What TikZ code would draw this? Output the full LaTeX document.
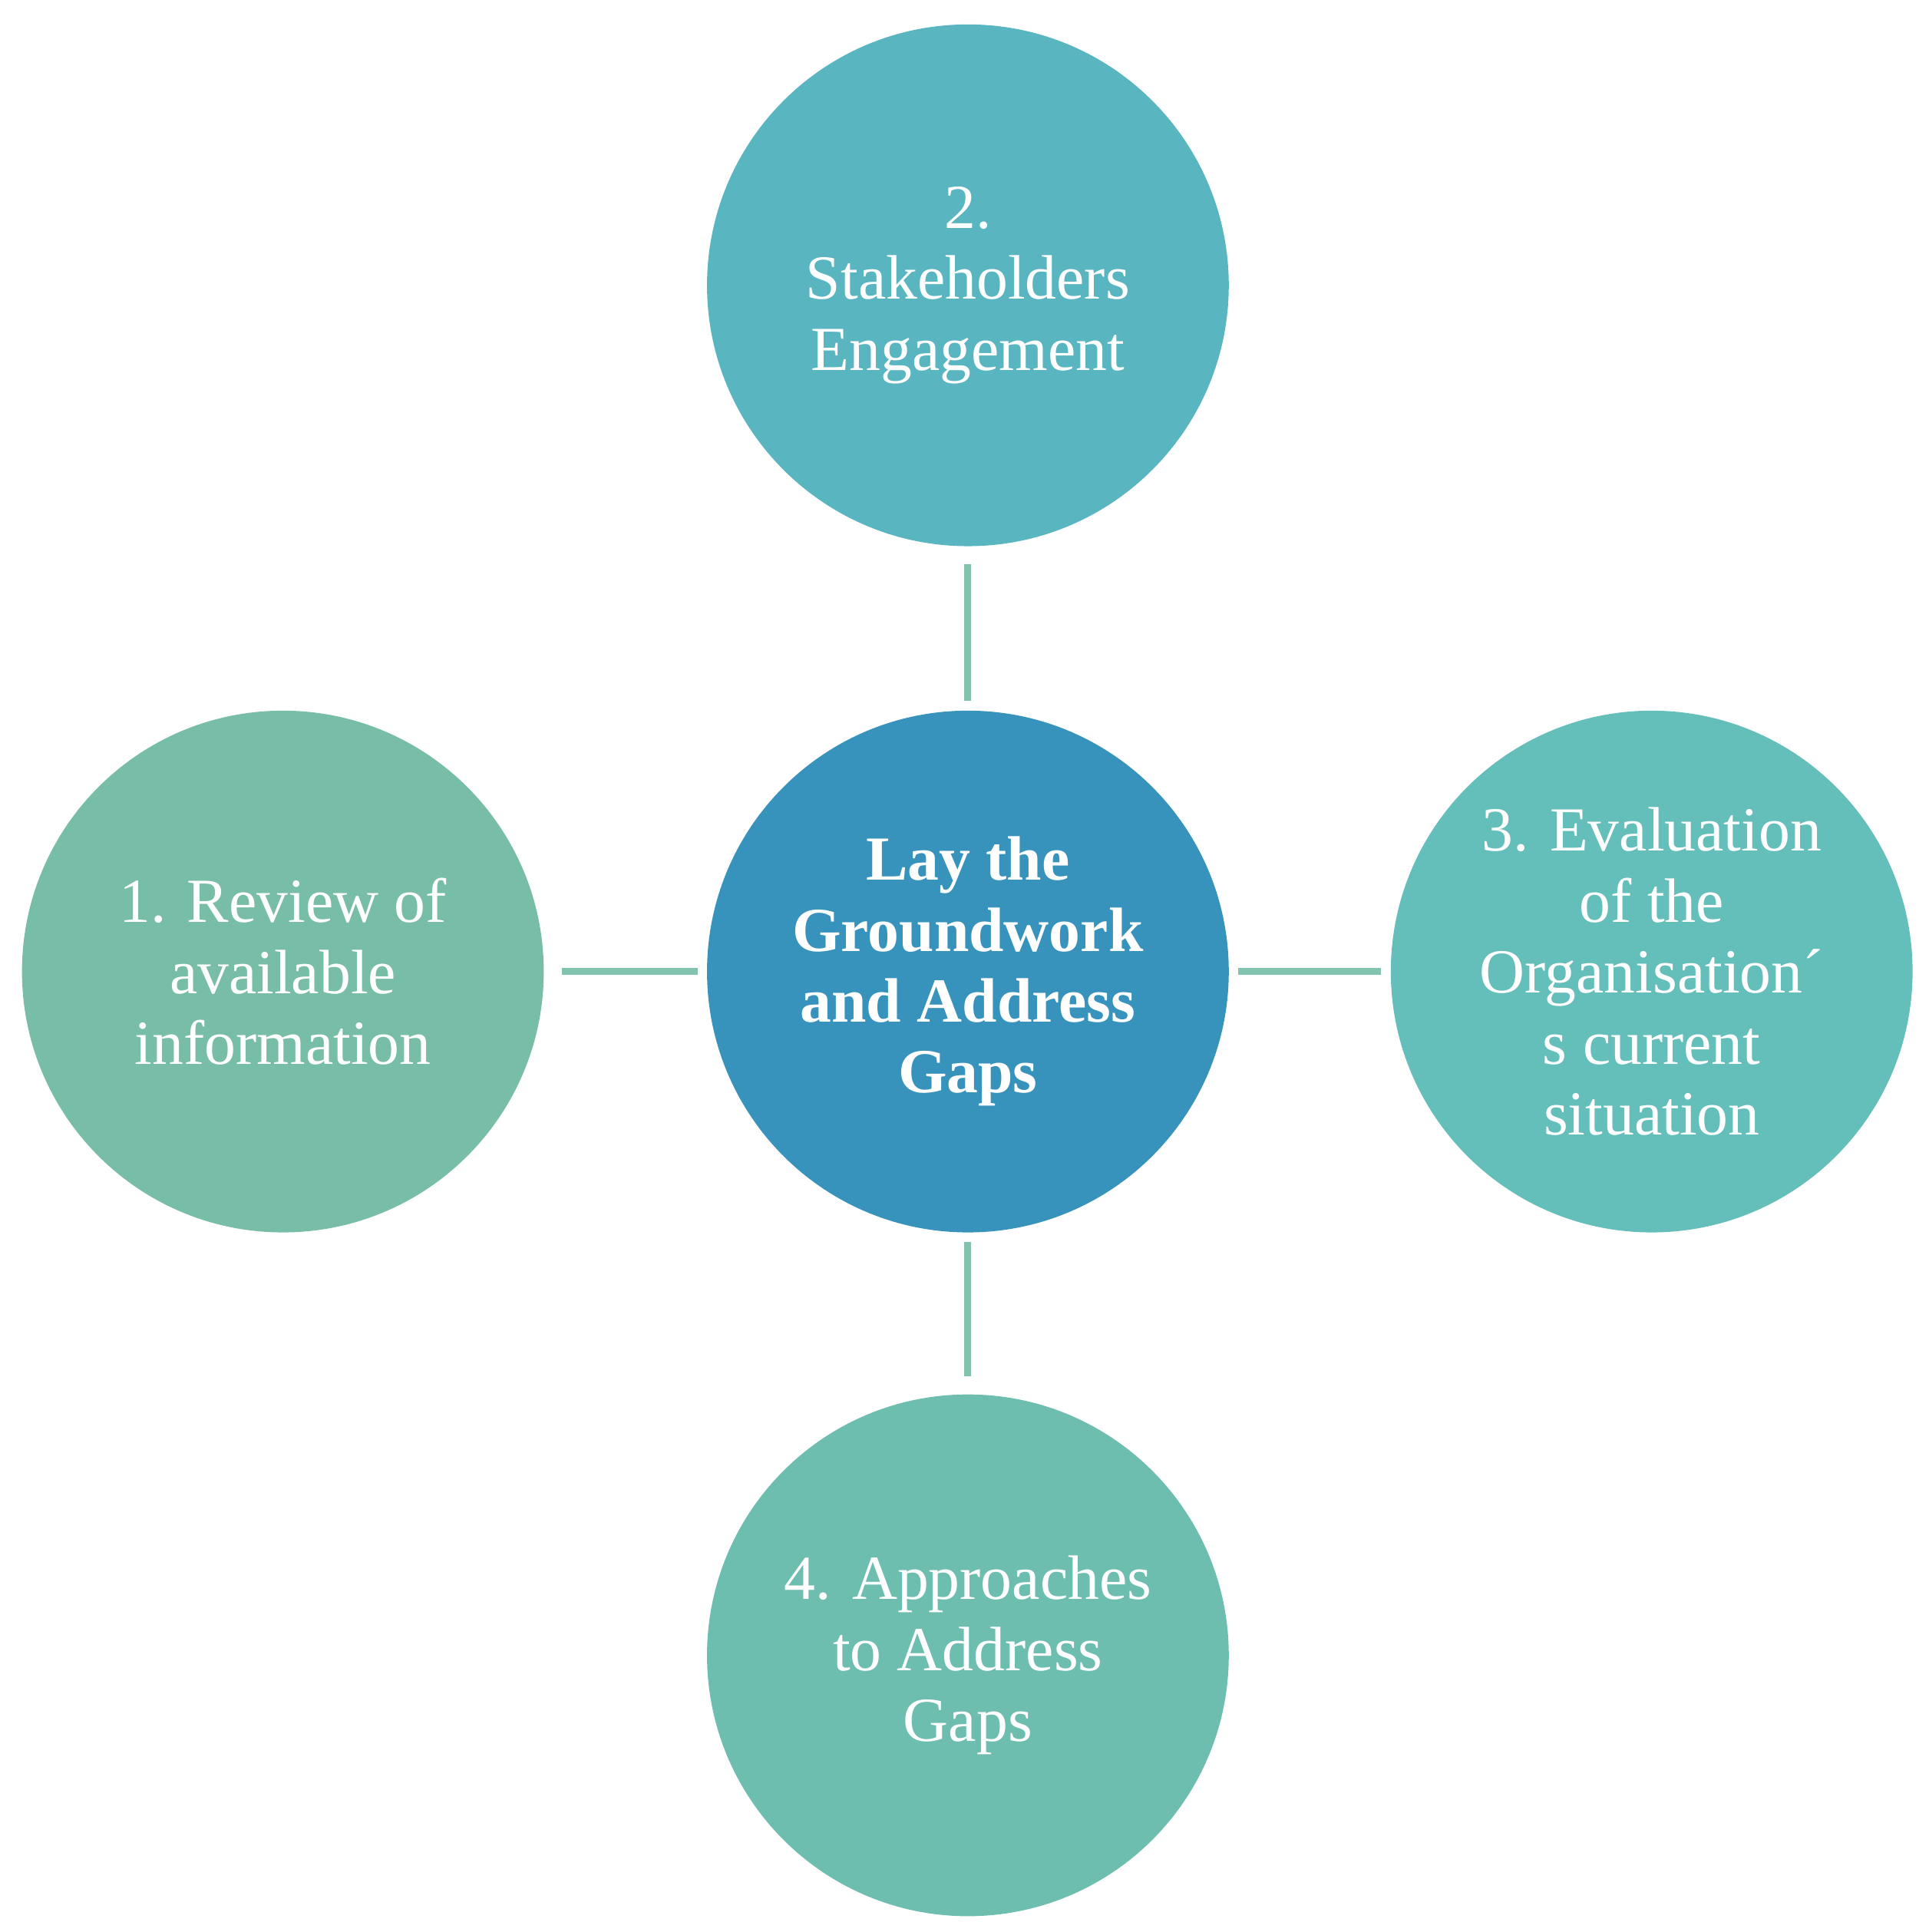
\documentclass[tikz,border=0pt]{standalone}
\usepackage{fontspec}
\setmainfont{Liberation Serif}
\usetikzlibrary{positioning}
\definecolor{hubblue}{RGB}{55,147,188}
\definecolor{topteal}{RGB}{89,181,192}
\definecolor{leftgreen}{RGB}{120,189,167}
\definecolor{rightteal}{RGB}{100,190,186}
\definecolor{botgreen}{RGB}{110,190,176}
\definecolor{linkgreen}{RGB}{130,195,175}
\begin{document}
\begin{tikzpicture}[x=0.01cm,y=-0.01cm,
  stage/.style={circle, minimum size=4.24cm, inner sep=0pt, align=center, text=white,
    font=\fontsize{14.5}{16.4}\selectfont},
  link/.style={draw=linkgreen, line width=1.6pt}]
  \useasboundingbox (0,0) rectangle (1568,1571);
  \node[stage, fill=hubblue, font=\fontsize{14.5}{16.4}\selectfont\bfseries] (hub) at (787,790) {Lay the\\Groundwork\\and Address\\Gaps};
  \node[stage, fill=topteal] (s2) at (787,232) {2.\\Stakeholders\\Engagement};
  \node[stage, fill=leftgreen] (s1) at (230,790) {1. Review of\\available\\information};
  \node[stage, fill=rightteal] (s3) at (1343,790) {3. Evaluation\\of the\\Organisation´\\s current\\situation};
  \node[stage, fill=botgreen] (s4) at (787,1346) {4. Approaches\\to Address\\Gaps};

  \draw[link, shorten <=4pt, shorten >=2pt] (s2) -- (hub);
  \draw[link, shorten <=4pt, shorten >=2pt] (s1) -- (hub);
  \draw[link, shorten <=2pt, shorten >=2pt] (hub) -- (s3);
  \draw[link, shorten <=2pt, shorten >=4pt] (hub) -- (s4);
\end{tikzpicture}
\end{document}
